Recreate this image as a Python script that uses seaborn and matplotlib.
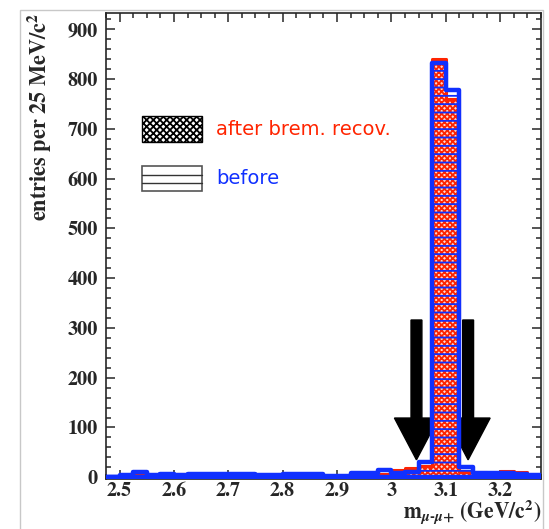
import numpy as np
import pandas as pd
import matplotlib
matplotlib.use("Agg")
import matplotlib.pyplot as plt
import seaborn as sns
from matplotlib.patches import Rectangle
from matplotlib.ticker import MultipleLocator

# mass window, 25 MeV bins
x_lo, x_hi = 2.475, 3.275
after = [0, 4, 5, 3, 5, 6, 6, 5, 5, 6, 5, 4, 3, 6, 5, 4,
         0, 0, 6, 8, 7, 14, 18, 22, 841, 761, 10, 10, 9, 12, 10, 4]
before = [1, 5, 11, 4, 6, 5, 7, 6, 6, 7, 6, 5, 4, 7, 6, 6,
          2, 2, 8, 8, 14, 8, 10, 30, 833, 778, 20, 8, 8, 8, 6, 4]
arrow_x = [3.046, 3.141]
arrow_top, arrow_tip = 316, 35
labels = ["after brem. recov.", "before"]

RED = "#ff2400"
BLUE = "#1030ff"

sns.set_style("ticks")
plt.rcParams["font.family"] = ["STIXGeneral", "Liberation Serif"]
plt.rcParams["font.weight"] = "bold"
plt.rcParams["mathtext.fontset"] = "stix"
plt.rcParams["hatch.linewidth"] = 1.3

edges = np.linspace(x_lo, x_hi, len(after) + 1)
df = pd.DataFrame({"mass": (edges[:-1] + edges[1:]) / 2,
                   "after": after, "before": before})
bins = edges.tolist()

fig = plt.figure(figsize=(5.49, 5.29), dpi=100)
ax = fig.add_axes([0.193, 0.095, 0.7924, 0.8805])

sns.histplot(data=df, x="mass", weights="after", bins=bins, element="step",
             fill=True, color=RED, facecolor="#ffd8d0", edgecolor=RED,
             hatch="xxxxxx", linewidth=2.2, ax=ax, zorder=2)
sns.histplot(data=df, x="mass", weights="before", bins=bins, element="step",
             fill=True, color=BLUE, facecolor="none", edgecolor=BLUE,
             hatch="--", linewidth=3.2, ax=ax, zorder=3)

for xa in arrow_x:
    ax.arrow(xa, arrow_top, 0, arrow_tip - arrow_top, width=0.02,
             head_width=0.081, head_length=84, length_includes_head=True,
             fc="black", ec="black", zorder=1)

ax.set_xlim(x_lo, x_hi)
ax.set_ylim(-3, 933)
ax.xaxis.set_minor_locator(MultipleLocator(0.025))
ax.yaxis.set_major_locator(MultipleLocator(100))
ax.yaxis.set_minor_locator(MultipleLocator(20))
ax.set_xticks(np.arange(2.5, 3.25, 0.1))
ax.set_xticklabels(["2.5", "2.6", "2.7", "2.8", "2.9", "3", "3.1", "3.2"])
ax.tick_params(which="both", direction="in", top=True, right=True,
               labelsize=14.5, width=1.1)
ax.tick_params(which="major", length=6.5)
ax.tick_params(which="minor", length=3.5)
ax.tick_params(axis="y", pad=6)
ax.tick_params(axis="x", pad=2)
for s in ax.spines.values():
    s.set_linewidth(1.2)

ax.set_ylabel(r"entries per 25 MeV/c$^{\mathbf{2}}$", fontsize=16,
              fontweight="bold", loc="top")
ax.yaxis.set_label_coords(-0.12, 1.0)
ax.set_xlabel(r"m$_{\mu\text{-}\mu\mathbf{+}}$ (GeV/c$^{\mathbf{2}}$)",
              fontsize=15.5, fontweight="bold", loc="right")
ax.xaxis.set_label_coords(1.0, -0.041)

# legend boxes
ax.add_patch(Rectangle((0.083, 0.722), 0.138, 0.056, transform=ax.transAxes,
                       facecolor="white", edgecolor="black", hatch="xxxxx",
                       lw=1.0, zorder=4))
ax.add_patch(Rectangle((0.083, 0.617), 0.138, 0.054, transform=ax.transAxes,
                       facecolor="white", edgecolor="#555555", lw=1.2, zorder=4))
for yy in [0.635, 0.653]:
    ax.plot([0.083, 0.221], [yy, yy], transform=ax.transAxes, color="#333333",
            lw=1.0, zorder=4)
ax.text(0.253, 0.750, labels[0], transform=ax.transAxes, color=RED,
        fontsize=14, family="DejaVu Sans", weight="normal", va="center")
ax.text(0.253, 0.645, labels[1], transform=ax.transAxes, color=BLUE,
        fontsize=14, family="DejaVu Sans", weight="normal", va="center")

fig.patches.append(Rectangle((20 / 549, -0.01), 523 / 549, 1 - 10 / 529 + 0.01,
                             transform=fig.transFigure, fill=False,
                             ec="#c8c8c8", lw=1.0))

fig.savefig("out.png", dpi=100)
